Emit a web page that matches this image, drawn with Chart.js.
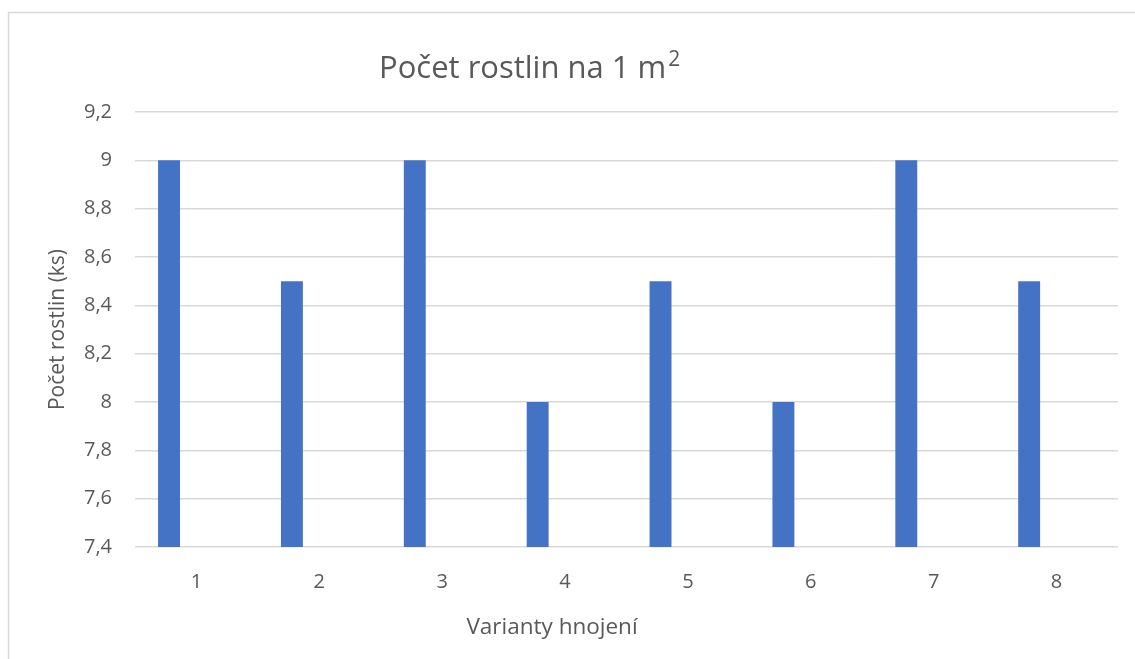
<!DOCTYPE html>
<html>
<head>
<meta charset="utf-8">
<script src="https://cdn.jsdelivr.net/npm/chart.js@4/dist/chart.umd.min.js"></script>
<style>
  body { margin: 0; background: #fff; }
  #wrap { position: relative; width: 1135px; height: 659px; }
</style>
</head>
<body>
<div id="wrap"><canvas id="chart"></canvas></div>
<script>
// data
const varianty = ['1', '2', '3', '4', '5', '6', '7', '8'];
const pocetRostlin = [9, 8.5, 9, 8, 8.5, 8, 9, 8.5];
// second (empty) series - keeps the bars left of the category centre like the original
const prazdnaRada = [null, null, null, null, null, null, null, null];
const yMin = 7.4, yMax = 9.2, yStep = 0.2;

const FONT = '"Open Sans", sans-serif';
const TEXT = '#595959';

// title, x axis title and the outer frame
const textPlugin = {
  id: 'texts',
  beforeDraw(chart) {
    const ctx = chart.ctx;
    ctx.save();
    ctx.strokeStyle = '#d9d9d9';
    ctx.lineWidth = 1.5;
    ctx.strokeRect(8.5, 12.5, 2000, 2000);
    ctx.restore();
  },
  afterDraw(chart) {
    const ctx = chart.ctx;
    ctx.save();
    ctx.fillStyle = TEXT;
    ctx.textBaseline = 'alphabetic';
    ctx.textAlign = 'left';
    ctx.font = '31px ' + FONT;
    const main = 'Počet rostlin na 1 m';
    const x0 = 379;
    ctx.fillText(main, x0, 78);
    const w = ctx.measureText(main).width;
    ctx.font = '21px ' + FONT;
    ctx.fillText('2', x0 + w + 2, 66);

    ctx.font = '22.5px ' + FONT;
    ctx.textAlign = 'center';
    ctx.fillText('Varianty hnojení', 552, 634);
    ctx.restore();
  }
};

new Chart(document.getElementById('chart'), {
  type: 'bar',
  data: {
    labels: varianty,
    datasets: [
      {
        label: 'Počet rostlin',
        data: pocetRostlin,
        backgroundColor: '#4472c4',
        categoryPercentage: 0.892,
        barPercentage: 0.4
      },
      {
        label: '',
        data: prazdnaRada,
        backgroundColor: '#ed7d31',
        categoryPercentage: 0.892,
        barPercentage: 0.4
      }
    ]
  },
  options: {
    responsive: true,
    maintainAspectRatio: false,
    animation: false,
    layout: { padding: { left: 0, top: 112, right: 17, bottom: 0 } },
    plugins: {
      legend: { display: false },
      title: { display: false },
      tooltip: { enabled: false }
    },
    scales: {
      x: {
        afterFit: (s) => { s.height = 112; },
        grid: { display: false },
        border: { display: false },
        ticks: { color: TEXT, font: { family: FONT, size: 20 }, padding: 15 }
      },
      y: {
        min: yMin,
        max: yMax,
        afterFit: (s) => { s.width = 135; },
        grid: { color: '#d9d9d9', lineWidth: 1.5, drawTicks: false },
        border: { display: false },
        ticks: {
          stepSize: yStep,
          color: TEXT,
          font: { family: FONT, size: 20 },
          padding: 23,
          callback: (v) => (Math.round(v * 10) / 10).toString().replace('.', ',')
        },
        title: {
          display: true,
          text: 'Počet rostlin (ks)',
          color: TEXT,
          font: { family: FONT, size: 21 },
          padding: { top: 45, bottom: 0 }
        }
      }
    }
  },
  plugins: [textPlugin]
});
</script>
</body>
</html>
